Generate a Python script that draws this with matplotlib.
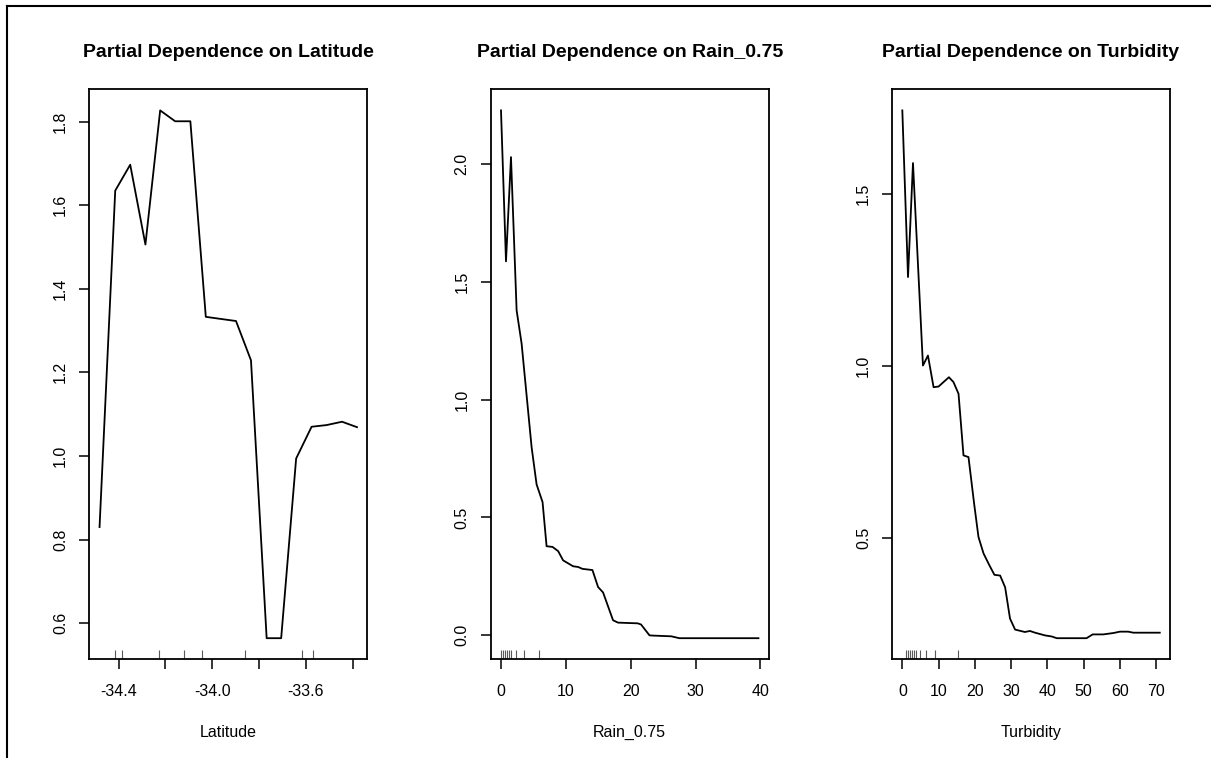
import numpy as np
import matplotlib.pyplot as plt
from matplotlib.lines import Line2D

plt.rcParams['font.family'] = ['Liberation Sans', 'DejaVu Sans']

# ----------------------------
# Data
# ----------------------------

lat_x = [-34.481, -34.414, -34.350, -34.285, -34.222, -34.158, -34.093, -34.027, -33.963,
         -33.898, -33.834, -33.767, -33.705, -33.641, -33.575, -33.511, -33.445, -33.381]
lat_y = [0.830, 1.635, 1.697, 1.506, 1.827, 1.801, 1.801, 1.333, 1.328,
         1.323, 1.229, 0.564, 0.564, 0.994, 1.070, 1.074, 1.082, 1.069]
lat_rug = [-34.417, -34.384, -34.229, -34.119, -34.042, -33.860, -33.615, -33.568]

rain_x = [0.0, 0.77, 1.54, 2.41, 3.18, 4.72, 5.49, 6.41, 7.03, 7.95, 8.82, 9.58, 11.12,
          11.9, 12.56, 14.1, 14.97, 15.74, 17.28, 18.05, 21.1, 21.6, 22.9, 23.5, 26.26,
          27.5, 39.7]
rain_y = [2.226, 1.586, 2.028, 1.378, 1.237, 0.798, 0.640, 0.565, 0.378, 0.375, 0.357,
          0.318, 0.293, 0.290, 0.282, 0.277, 0.205, 0.182, 0.064, 0.054, 0.051, 0.046,
          0.000, -0.001, -0.004, -0.012, -0.012]
rain_rug = [0.05, 0.36, 0.66, 0.87, 1.18, 1.49, 2.3, 3.5, 5.9]

turb_x = [0.0, 1.57, 2.94, 5.69, 7.07, 8.62, 10.0, 12.85, 14.1, 15.5, 16.87, 18.25, 19.8,
          21.0, 22.4, 24.0, 25.4, 26.97, 28.35, 29.7, 31.1, 33.8, 35.2, 36.6, 39.4, 41.2,
          42.6, 50.8, 52.5, 55.4, 58.2, 60.0, 62.3, 63.7, 71.0]
turb_y = [1.742, 1.258, 1.589, 1.001, 1.030, 0.938, 0.940, 0.967, 0.953, 0.919, 0.740,
          0.735, 0.600, 0.503, 0.455, 0.421, 0.393, 0.391, 0.357, 0.266, 0.234, 0.227,
          0.230, 0.225, 0.217, 0.214, 0.209, 0.209, 0.220, 0.220, 0.224, 0.228, 0.228,
          0.225, 0.225]
turb_rug = [1.0, 1.65, 2.2, 2.57, 3.1, 3.67, 4.95, 6.6, 9.0, 15.3]

names = ['Latitude', 'Rain_0.75', 'Turbidity']
xs = [lat_x, rain_x, turb_x]
ys = [lat_y, rain_y, turb_y]
rugs = [lat_rug, rain_rug, turb_rug]

xticks = [[-34.4, -34.2, -34.0, -33.8, -33.6, -33.4], [0, 10, 20, 30, 40],
          [0, 10, 20, 30, 40, 50, 60, 70]]
xticklabels = [['-34.4', '', '-34.0', '', '-33.6', ''], ['0', '10', '20', '30', '40'],
               ['0', '10', '20', '30', '40', '50', '60', '70']]
yticks = [[0.6, 0.8, 1.0, 1.2, 1.4, 1.6, 1.8], [0.0, 0.5, 1.0, 1.5, 2.0], [0.5, 1.0, 1.5]]
yticklabels = [['0.6', '0.8', '1.0', '1.2', '1.4', '1.6', '1.8'],
               ['0.0', '0.5', '1.0', '1.5', '2.0'], ['0.5', '1.0', '1.5']]

# ----------------------------
# Plot
# ----------------------------

fig = plt.figure(figsize=(12.11, 7.58), dpi=100)
lefts = [0.0737, 0.4052, 0.7366]

for i in range(3):
    ax = fig.add_axes([lefts[i], 0.1302, 0.2296, 0.752])
    ax.plot(xs[i], ys[i], color='black', linewidth=1.3)

    # R style 4% range expansion
    x0, x1 = min(xs[i]), max(xs[i])
    y0, y1 = min(ys[i]), max(ys[i])
    dx = 0.04 * (x1 - x0)
    dy = 0.04 * (y1 - y0)
    ax.set_xlim(x0 - dx, x1 + dx)
    ax.set_ylim(y0 - dy, y1 + dy)

    # rug at deciles
    ax.vlines(rugs[i], 0, 0.016, transform=ax.get_xaxis_transform(),
              color='0.35', linewidth=0.8)

    ax.set_xticks(xticks[i])
    ax.set_xticklabels(xticklabels[i])
    ax.set_yticks(yticks[i])
    ax.set_yticklabels(yticklabels[i], rotation=90, va='center')
    ax.tick_params(direction='out', length=7.2, width=1.1, labelsize=11.5, color='black')
    ax.tick_params(axis='x', pad=10.5)
    ax.tick_params(axis='y', pad=8)
    for s in ax.spines.values():
        s.set_linewidth(1.3)

    ax.set_title('Partial Dependence on ' + names[i], fontsize=14, fontweight='bold', pad=23)
    ax.set_xlabel(names[i], fontsize=11.5, labelpad=19)

# outer border (top and left only)
fig.add_artist(Line2D([0.0058, 1.0], [0.992, 0.992], color='black', linewidth=1.5,
                      transform=fig.transFigure))
fig.add_artist(Line2D([0.0058, 0.0058], [0.0, 0.992], color='black', linewidth=1.5,
                      transform=fig.transFigure))

plt.savefig('out.png', dpi=100)
